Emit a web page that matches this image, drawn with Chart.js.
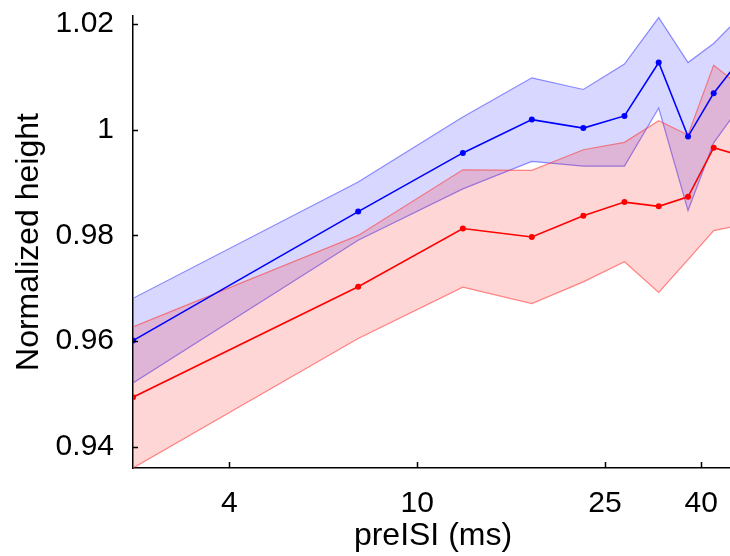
<!DOCTYPE html>
<html>
<head>
<meta charset="utf-8">
<script src="https://cdn.jsdelivr.net/npm/chart.js@4"></script>
<style>
  html, body { margin: 0; padding: 0; background: #fff; overflow: hidden; }
</style>
</head>
<body>
<canvas id="chart" width="737" height="556"></canvas>
<script>
'use strict';

// preISI bin centres (ms)
const preIsi = [2.5, 7.5, 12.5, 17.5, 22.5, 27.5, 32.5, 37.5, 42.5, 47.5];

// blue group: mean and band edges
const blueMean  = [0.9601, 0.9845, 0.9956, 1.0019, 1.0003, 1.0026, 1.0127, 0.9987, 1.0069, 1.0124];
const blueUpper = [0.9681, 0.9901, 1.0024, 1.0098, 1.0076, 1.0124, 1.0212, 1.0127, 1.0163, 1.0207];
const blueLower = [0.9521, 0.9791, 0.9888, 0.9940, 0.9931, 0.9931, 1.0041, 0.9847, 0.9975, 1.0035];

// red group: mean and band edges
const redMean  = [0.9494, 0.9703, 0.9813, 0.9797, 0.9837, 0.9863, 0.9855, 0.9873, 0.9966, 0.9953];
const redUpper = [0.9627, 0.9800, 0.9924, 0.9923, 0.9962, 0.9976, 1.0017, 0.9990, 1.0122, 1.0088];
const redLower = [0.9360, 0.9605, 0.9702, 0.9671, 0.9712, 0.9750, 0.9692, 0.9754, 0.9809, 0.9818];

const xTicks = [4, 10, 25, 40];
const yTicks = [0.94, 0.96, 0.98, 1, 1.02];

const pts = (ys) => ys.map((y, i) => ({ x: preIsi[i], y }));

// small tick marks pointing into the plot
const inwardTicks = {
  id: 'inwardTicks',
  afterDatasetsDraw(chart) {
    const { ctx, chartArea, scales } = chart;
    ctx.save();
    ctx.strokeStyle = '#000';
    ctx.lineWidth = 1.5;
    ctx.beginPath();
    xTicks.forEach(v => {
      const px = Math.round(scales.x.getPixelForValue(v)) + 0.5;
      ctx.moveTo(px, chartArea.bottom);
      ctx.lineTo(px, chartArea.bottom - 6);
    });
    yTicks.forEach(v => {
      const py = Math.round(scales.y.getPixelForValue(v)) + 0.5;
      ctx.moveTo(chartArea.left, py);
      ctx.lineTo(chartArea.left + 5, py);
    });
    ctx.stroke();
    ctx.restore();
  }
};

Chart.defaults.font.family = '"Liberation Sans", Arial, sans-serif';
Chart.defaults.font.size = 30;
Chart.defaults.color = '#000';

const titleFont = { size: 32 };

const edge = (data, color, order) => ({
  data: pts(data),
  borderColor: color,
  borderWidth: 1.2,
  pointRadius: 0,
  fill: false,
  order,
});

new Chart(document.getElementById('chart'), {
  type: 'line',
  data: {
    datasets: [
      edge(blueLower, 'rgba(70,70,255,0.6)', 3),
      Object.assign(edge(blueUpper, 'rgba(70,70,255,0.6)', 3), {
        fill: { target: 0 },
        backgroundColor: 'rgba(0,0,255,0.155)',
      }),
      edge(redLower, 'rgba(255,60,60,0.6)', 2),
      Object.assign(edge(redUpper, 'rgba(255,60,60,0.6)', 2), {
        fill: { target: 2 },
        backgroundColor: 'rgba(255,0,0,0.16)',
      }),
      {
        data: pts(redMean),
        borderColor: '#f00',
        backgroundColor: '#f00',
        borderWidth: 1.6,
        pointRadius: 3,
        pointBorderWidth: 0,
        order: 1,
      },
      {
        data: pts(blueMean),
        borderColor: '#00f',
        backgroundColor: '#00f',
        borderWidth: 1.6,
        pointRadius: 3,
        pointBorderWidth: 0,
        order: 0,
      },
    ],
  },
  options: {
    responsive: false,
    animation: false,
    events: [],
    layout: { padding: { top: 16, right: 0, left: 0, bottom: 0 } },
    plugins: { legend: { display: false }, tooltip: { enabled: false } },
    scales: {
      x: {
        type: 'logarithmic',
        min: 2.5,
        max: 46.7,
        afterBuildTicks: (s) => { s.ticks = xTicks.map(v => ({ value: v })); },
        afterFit: (s) => { s.height = 88; s.paddingLeft = 0; s.paddingRight = 0; },
        ticks: { callback: (v) => String(v), padding: 10, maxRotation: 0, autoSkip: false },
        grid: { display: false },
        border: { display: true, color: '#000', width: 1.5 },
        title: { display: true, text: 'preISI (ms)', font: titleFont, padding: { top: 0, bottom: 1 } },
      },
      y: {
        min: 0.936,
        max: 1.0215,
        afterBuildTicks: (s) => { s.ticks = yTicks.map(v => ({ value: v })); },
        afterFit: (s) => { s.width = 133; s.paddingTop = 0; s.paddingBottom = 0; },
        ticks: { callback: (v) => String(v), padding: 11 },
        grid: { display: false },
        border: { display: true, color: '#000', width: 1.5 },
        title: { display: true, text: 'Normalized height', font: titleFont, padding: { top: 10, bottom: 0 } },
      },
    },
  },
  plugins: [inwardTicks],
});
</script>
</body>
</html>
